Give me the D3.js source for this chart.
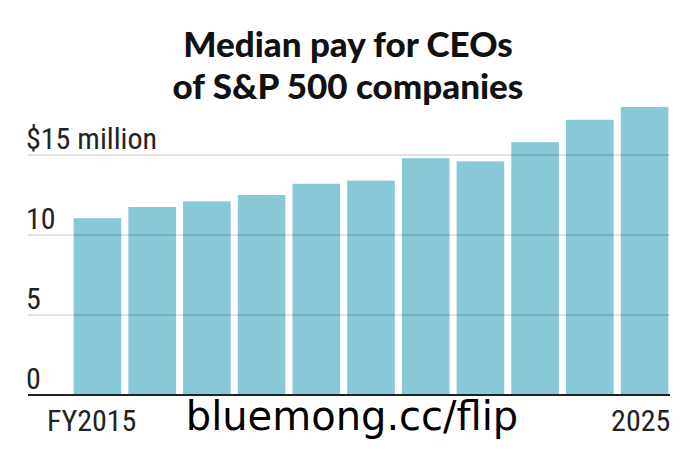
<!DOCTYPE html>
<html><head><meta charset="utf-8">
<script src="https://cdn.jsdelivr.net/npm/d3@7"></script>
<style>body{margin:0;background:#fff}</style></head>
<body><svg id="c" width="700" height="466"></svg>
<script>
const years = ["FY2015","2016","2017","2018","2019","2020","2021","2022","2023","2024","2025"];
const pay = [11.05,11.75,12.1,12.5,13.2,13.4,14.8,14.6,15.8,17.2,18.0];
const tickValues = [0,5,10,15];
const tickLabels = ["0","5","10","$15 million"];

const svg = d3.select("#c");
const x = d3.scaleBand().domain(years).range([72,670]).paddingInner(0.13).paddingOuter(0.03);
const y = d3.scaleLinear().domain([0,15]).range([395,155]);
const font = "'Liberation Sans Narrow','Roboto Condensed','Liberation Sans',sans-serif";

svg.append("g").selectAll("text").data(["Median pay for CEOs","of S&P 500 companies"]).join("text")
  .attr("x",348).attr("y",(d,i)=>57+i*42).attr("text-anchor","middle")
  .attr("font-family","Lato,'Open Sans',sans-serif").attr("font-weight",900)
  .attr("font-size",35).attr("fill","#111").text(d=>d);

svg.append("g").selectAll("rect").data(pay).join("rect")
  .attr("x",(d,i)=>x(years[i])).attr("width",x.bandwidth())
  .attr("y",d=>y(d)).attr("height",d=>y(0)-y(d)).attr("fill","#88c8d7");

svg.append("g").selectAll("line").data(tickValues.slice(1)).join("line")
  .attr("x1",28).attr("x2",670).attr("y1",d=>y(d)).attr("y2",d=>y(d))
  .attr("stroke","#000").attr("stroke-opacity",0.15).attr("stroke-width",1.5);
svg.append("line").attr("x1",28).attr("x2",670).attr("y1",y(0)).attr("y2",y(0))
  .attr("stroke","#222").attr("stroke-width",2);

svg.append("g").selectAll("text").data(tickValues).join("text")
  .attr("x",26).attr("y",d=>y(d)-6).attr("font-family",font).attr("font-size",30)
  .attr("fill","#222").text((d,i)=>tickLabels[i]);

svg.append("text").attr("x",47).attr("y",431).attr("font-family",font)
  .attr("font-size",30).attr("fill","#222").text(years[0]);
svg.append("text").attr("x",x(years[10])+x.bandwidth()+2).attr("y",431).attr("text-anchor","end")
  .attr("font-family",font).attr("font-size",30).attr("fill","#222").text(years[10]);

svg.append("text").attr("x",352).attr("y",430).attr("text-anchor","middle")
  .attr("font-family","'DejaVu Sans',sans-serif").attr("font-size",40).attr("fill","#000")
  .attr("stroke","#fff").attr("stroke-width",1).attr("paint-order","stroke").text("bluemong.cc/flip");
</script></body></html>
